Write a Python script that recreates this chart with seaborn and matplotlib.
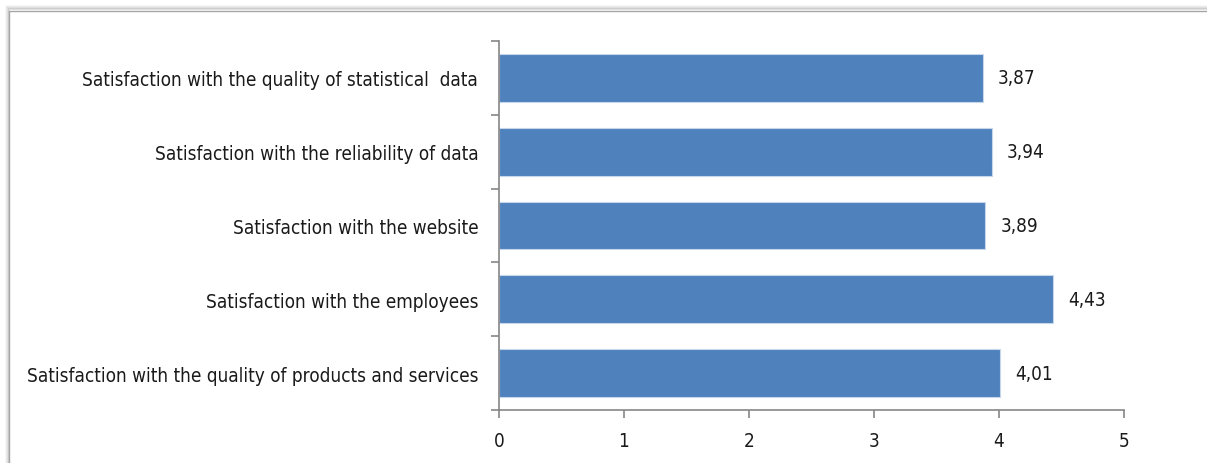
import matplotlib
matplotlib.use("Agg")
import matplotlib.pyplot as plt
from matplotlib.patches import Rectangle
from matplotlib import font_manager
import numpy as np
import seaborn as sns

categories = [
    "Satisfaction with the quality of statistical  data",
    "Satisfaction with the reliability of data",
    "Satisfaction with the website",
    "Satisfaction with the employees",
    "Satisfaction with the quality of products and services",
]
scores = [3.87, 3.94, 3.89, 4.43, 4.01]
x_ticks = [0, 1, 2, 3, 4, 5]

sns.set_theme(style="white")

# prefer a narrow sans face when one is installed
narrow = None
for f in font_manager.fontManager.ttflist:
    if "narrow" in f.name.lower() or "condensed" in f.name.lower() or f.stretch in ("condensed", "semi-condensed", 75, 87.5):
        if f.style == "normal" and f.weight in (400, "normal", "regular"):
            narrow = f
            break

if narrow is not None:
    plt.rcParams["font.family"] = [narrow.name, "DejaVu Sans"]
    if narrow.stretch not in ("normal", 500):
        plt.rcParams["font.stretch"] = narrow.stretch
    fs = 13.6
else:
    plt.rcParams["font.family"] = ["Liberation Sans", "DejaVu Sans"]
    fs = 14.2

W, H = 1207, 464
fig = plt.figure(figsize=(W / 100, H / 100), dpi=100)
fig.patch.set_facecolor("white")

# outer chart frame with a soft shadow on the top and left
fx, fy = 9, 12
for i, a in enumerate([0.03, 0.05, 0.08, 0.12]):
    off = 4 - i
    fig.patches.append(Rectangle(((fx - off) / W, 0), 2 / W, 1 - (fy - off) / H,
                                 transform=fig.transFigure, facecolor="black",
                                 edgecolor="none", alpha=a, zorder=0))
    fig.patches.append(Rectangle(((fx - off) / W, 1 - (fy - off) / H), 1, 2 / H,
                                 transform=fig.transFigure, facecolor="black",
                                 edgecolor="none", alpha=a, zorder=0))
fig.patches.append(Rectangle((fx / W, -0.1), 1.2, 1 - fy / H + 0.1,
                             transform=fig.transFigure, facecolor="white",
                             edgecolor="#a6a6a6", linewidth=1.0, zorder=0))

ax = fig.add_axes([499 / W, 1 - 411 / H, (1124 - 499) / W, (411 - 42) / H])
ax.set_zorder(5)
ax.set_facecolor("none")

sns.barplot(x=scores, y=categories, orient="h", color="#4F81BD", width=0.65,
            saturation=1, edgecolor="#c6d7ec", linewidth=0.8, ax=ax)

for i, v in enumerate(scores):
    ax.text(v + 0.12, i, f"{v:.2f}".replace(".", ","), va="center", ha="left",
            fontsize=fs, color="#1a1a1a")

ax.set_xlim(0, 5)
ax.set_ylim(len(categories) - 0.5, -0.5)
ax.set_xticks(x_ticks)
ax.set_xticklabels([str(t) for t in x_ticks], fontsize=fs, color="#1a1a1a")
ax.set_yticks(range(len(categories)))
ax.set_yticklabels(categories, fontsize=fs, color="#1a1a1a")
ax.set_yticks(np.arange(-0.5, len(categories), 1.0), minor=True)
ax.tick_params(axis="y", which="major", length=0, pad=15)
ax.tick_params(axis="y", which="minor", direction="out", length=6, color="#868686", width=1.2, left=True)
ax.tick_params(axis="x", direction="out", length=6, color="#868686", width=1.2, pad=9, bottom=True)
ax.set_xlabel("")
ax.set_ylabel("")

for s in ["top", "right"]:
    ax.spines[s].set_visible(False)
for s in ["left", "bottom"]:
    ax.spines[s].set_color("#868686")
    ax.spines[s].set_linewidth(1.2)

fig.savefig("out.png", dpi=100, facecolor="white")
